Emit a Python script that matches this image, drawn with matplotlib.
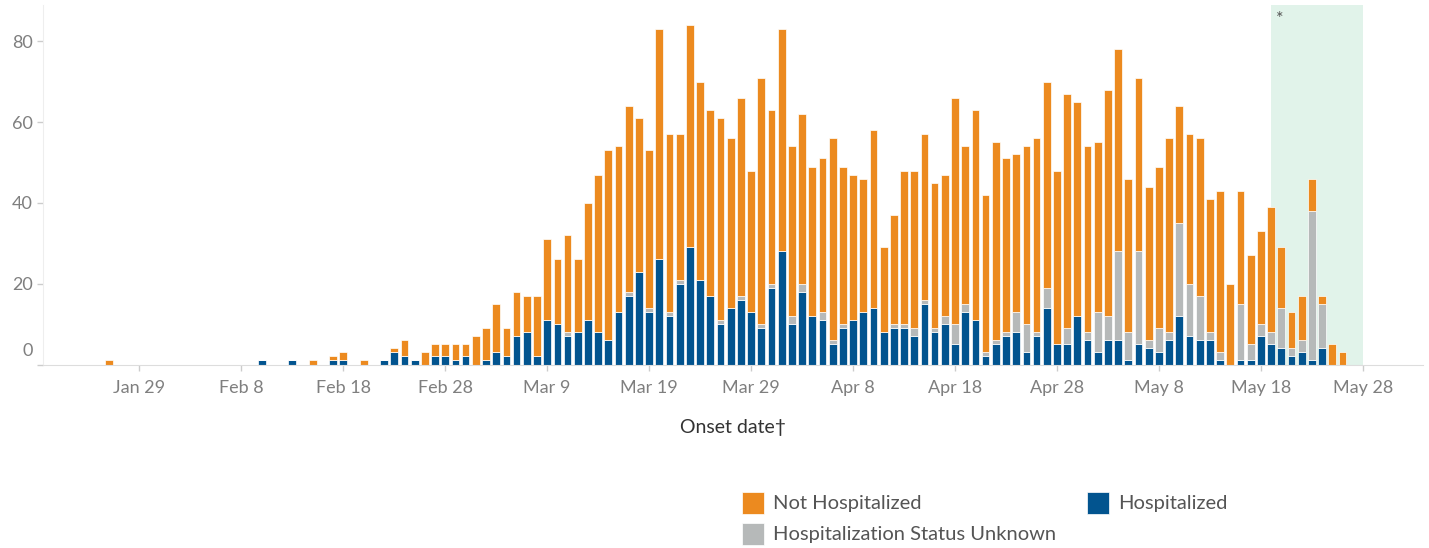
import numpy as np
import pandas as pd
import matplotlib
matplotlib.use("Agg")
import matplotlib.pyplot as plt
import matplotlib.dates as mdates
from matplotlib.patches import Rectangle
from matplotlib.transforms import ScaledTranslation

# daily case counts by onset date, Jan 26 .. May 26 2020
start_date = "2020-01-26"

hospitalized = (
    [0, 0, 0, 0, 0, 0]  # Jan 26-31
    + [0, 0, 0, 0, 0, 0, 0, 0, 0, 1, 0, 0, 1, 0, 0, 0, 1, 1, 0,
       0, 0, 1, 3, 2, 1, 0, 2, 2, 1]  # Feb
    + [2, 0, 1, 3, 2, 7, 8, 2, 11, 10, 7, 8, 11, 8, 6, 13, 17, 23, 13, 26,
       12, 20, 29, 21, 17, 10, 14, 16, 13, 9, 19]  # Mar
    + [28, 10, 18, 12, 11, 5, 9, 11, 13, 14, 8, 9, 9, 7, 15, 8, 10, 5, 13, 11,
       2, 5, 7, 8, 3, 7, 14, 5, 5, 12]  # Apr
    + [6, 3, 6, 6, 1, 5, 4, 3, 6, 12, 7, 6, 6, 1, 0, 1, 1, 7, 5, 4,
       2, 3, 1, 4, 0, 0]  # May
)
unknown = (
    [0, 0, 0, 0, 0, 0]
    + [0] * 29
    + [0, 0, 0, 0, 0, 0, 0, 0, 0, 0, 1, 0, 0, 0, 0, 0, 1, 0, 1, 0,
       1, 1, 0, 0, 0, 1, 0, 1, 0, 1, 1]
    + [0, 2, 2, 0, 2, 1, 1, 0, 0, 0, 0, 1, 1, 2, 1, 1, 2, 5, 2, 0,
       1, 1, 1, 5, 7, 1, 5, 0, 4, 0]
    + [2, 10, 6, 22, 7, 23, 2, 6, 2, 23, 13, 11, 2, 2, 0, 14, 4, 3, 3, 10,
       2, 3, 37, 11, 0, 0]
)
not_hospitalized = (
    [1, 0, 0, 0, 0, 0]
    + [0, 0, 0, 0, 0, 0, 0, 0, 0, 0, 0, 0, 0, 0, 1, 0, 1, 2, 0,
       1, 0, 0, 1, 4, 0, 3, 3, 3, 4]
    + [3, 7, 8, 12, 7, 11, 9, 15, 20, 16, 24, 18, 29, 39, 47, 41, 46, 38, 39, 57,
       44, 36, 55, 49, 46, 50, 42, 49, 35, 61, 43]
    + [55, 42, 42, 37, 38, 50, 39, 36, 33, 44, 21, 27, 38, 39, 41, 36, 35, 56, 39, 52,
       39, 49, 43, 39, 44, 48, 51, 43, 58, 53]
    + [46, 42, 56, 50, 38, 43, 38, 40, 48, 29, 37, 39, 33, 40, 20, 28, 22, 23, 31, 15,
       9, 11, 8, 2, 5, 3]
)
series_labels = ["Not Hospitalized", "Hospitalized", "Hospitalization Status Unknown"]
tick_dates = pd.date_range("2020-01-29", "2020-05-28", freq="10D")
shade_start, shade_end = "2020-05-19", "2020-05-28"

ORANGE = "#ec8a1f"
BLUE = "#02548f"
GRAY = "#b6b9b9"
GREEN = "#e1f3ea"
FONT = "Lato"

dates = pd.date_range(start_date, periods=len(hospitalized), freq="D")
x = mdates.date2num(dates)
hosp = np.array(hospitalized)
unk = np.array(unknown)
noth = np.array(not_hospitalized)

fig = plt.figure(figsize=(14.29, 5.48), dpi=100)
ax = fig.add_axes([43 / 1429, 1 - 364.5 / 548, 1380 / 1429, 359.5 / 548])

ax.axvspan(mdates.date2num(pd.Timestamp(shade_start)), mdates.date2num(pd.Timestamp(shade_end)),
           color=GREEN, zorder=0, lw=0)
ax.text(mdates.date2num(pd.Timestamp(shade_start)) + 0.5, 85.6, "*", fontsize=13,
        color="#555555", ha="left", va="center", family=FONT)

kw = dict(width=0.76, edgecolor="white", linewidth=0.5, zorder=2)
ax.bar(x, hosp, color=BLUE, **kw)
ax.bar(x, unk, bottom=hosp, color=GRAY, **kw)
ax.bar(x, noth, bottom=hosp + unk, color=ORANGE, **kw)

jan29 = mdates.date2num(pd.Timestamp("2020-01-29"))
ax.set_xlim(jan29 - 9.45, jan29 + 125.9)
ax.set_ylim(0, 89)

ax.set_xticks(mdates.date2num(tick_dates))
ax.set_xticklabels([f"{d:%b} {d.day}" for d in tick_dates])
ax.set_yticks([0, 20, 40, 60, 80])
ax.set_yticklabels(["0", "20", "40", "60", "80"])

for s in ["top", "right"]:
    ax.spines[s].set_visible(False)
ax.spines["left"].set_color("#eeeeee")
ax.spines["bottom"].set_color("#dddddd")
ax.tick_params(axis="both", colors="#cccccc", length=4.5, width=1,
               labelcolor="#7f7f7f", labelsize=13)
ax.tick_params(axis="x", pad=7)
ax.tick_params(axis="y", pad=3)
for lab in ax.get_xticklabels() + ax.get_yticklabels():
    lab.set_family(FONT)

# tableau lifts the zero label above the baseline
zero = ax.get_yticklabels()[0]
zero.set_transform(zero.get_transform() + ScaledTranslation(0, 14.5 / 100, fig.dpi_scale_trans))

ax.set_xlabel("Onset date\u2020", fontsize=14, family=FONT, color="#333333", labelpad=16)

# legend drawn by hand to match the layout
W, H = 1429, 548
items = [(742, 492, ORANGE, series_labels[0]),
         (1087, 492, BLUE, series_labels[1]),
         (742, 523, GRAY, series_labels[2])]
for px, py, c, lab in items:
    fig.add_artist(Rectangle((px / W, 1 - (py + 22) / H), 22 / W, 22 / H,
                             transform=fig.transFigure, facecolor=c, edgecolor="white", lw=0.5))
    fig.text((px + 31) / W, 1 - (py + 11.5) / H, lab, fontsize=14.5, family=FONT,
             color="#555555", va="center", ha="left")

fig.savefig("out.png", dpi=100)
